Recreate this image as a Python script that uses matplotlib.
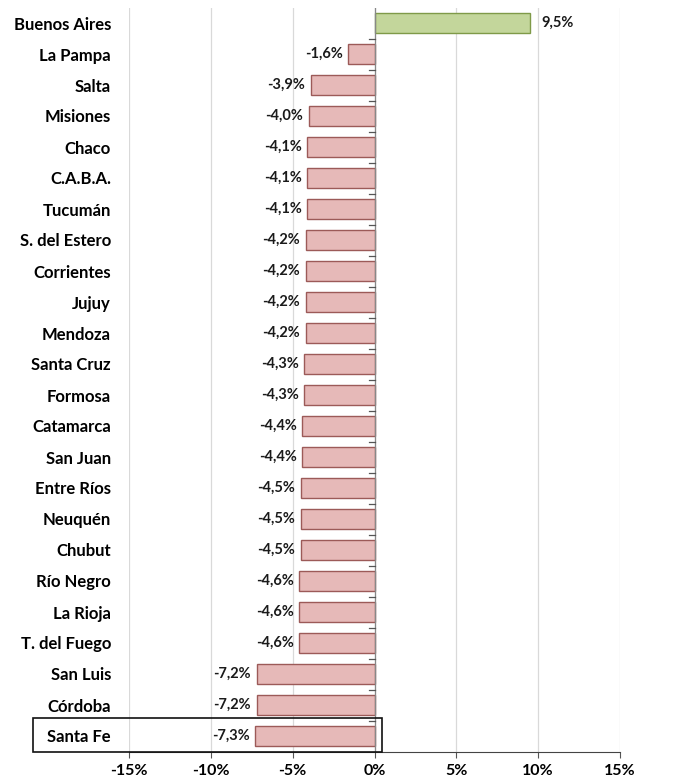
import matplotlib.pyplot as plt
from matplotlib.patches import Rectangle

# datos
provincias = ['Buenos Aires', 'La Pampa', 'Salta', 'Misiones', 'Chaco', 'C.A.B.A.',
              'Tucumán', 'S. del Estero', 'Corrientes', 'Jujuy', 'Mendoza',
              'Santa Cruz', 'Formosa', 'Catamarca', 'San Juan', 'Entre Ríos',
              'Neuquén', 'Chubut', 'Río Negro', 'La Rioja', 'T. del Fuego',
              'San Luis', 'Córdoba', 'Santa Fe']
variacion = [9.5, -1.6, -3.9, -4.0, -4.1, -4.1, -4.1, -4.2, -4.2, -4.2, -4.2,
             -4.3, -4.3, -4.4, -4.4, -4.5, -4.5, -4.5, -4.6, -4.6, -4.6,
             -7.2, -7.2, -7.3]
xticks = [-15, -10, -5, 0, 5, 10, 15]

plt.rcParams['font.family'] = ['Lato', 'DejaVu Sans']

fig = plt.figure(figsize=(6.75, 7.8), dpi=100)
ax = fig.add_axes([129 / 675, 1 - 751.5 / 780, (620 - 129) / 675, 744 / 780])

ypos = list(range(len(provincias)))
colores = ['#c3d69b' if v > 0 else '#e6b9b8' for v in variacion]
bordes = ['#7f9a48' if v > 0 else '#9c5a58' for v in variacion]
ax.barh(ypos, variacion, height=0.62, color=colores, edgecolor=bordes, linewidth=1.0, zorder=3)

for y, v in zip(ypos, variacion):
    txt = f'{v:.1f}%'.replace('.', ',')
    if v > 0:
        ax.annotate(txt, (v, y), xytext=(8, 0), textcoords='offset points',
                    ha='left', va='center', fontsize=10.5, fontweight='bold', color='#1a1a1a')
    else:
        ax.annotate(txt, (v, y), xytext=(-4, 0), textcoords='offset points',
                    ha='right', va='center', fontsize=10.5, fontweight='bold', color='#1a1a1a')

# marcas entre categorias sobre el eje 0
ax.axvline(0, color='#888888', linewidth=0.9, zorder=4)
for y in ypos[:-1]:
    ax.plot([-0.35, 0], [y + 0.5, y + 0.5], color='#555555', linewidth=0.9, zorder=4)

ax.set_xlim(-15, 15)
ax.set_ylim(len(provincias) - 0.5, -0.5)
ax.set_xticks(xticks)
ax.set_xticklabels([f'{t}%' for t in xticks], fontsize=11.5, fontweight='bold')
ax.set_yticks(ypos)
ax.set_yticklabels(provincias, fontsize=12, fontweight='bold')
ax.tick_params(axis='y', length=0, pad=13)
ax.tick_params(axis='x', length=4, color='#555555', pad=5)
ax.grid(axis='x', color='#d9d9d9', linewidth=0.9, zorder=0)
for s in ['top', 'right', 'left']:
    ax.spines[s].set_visible(False)
ax.spines['bottom'].set_color('#444444')

# recuadro Santa Fe
fig.patches.append(Rectangle((33 / 675, 1 - 752 / 780), (382 - 33) / 675, 34 / 780,
                             transform=fig.transFigure, fill=False,
                             edgecolor='#111111', linewidth=1.2))

plt.savefig('out.png', dpi=100)
